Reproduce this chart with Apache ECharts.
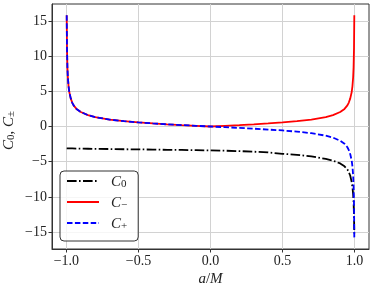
<!DOCTYPE html>
<html>
<head>
<meta charset="utf-8">
<script src="https://cdn.jsdelivr.net/npm/echarts@6/dist/echarts.min.js"></script>
<style>
html,body{margin:0;padding:0;background:#fff;}
#chart{width:374px;height:291px;}
</style>
</head>
<body>
<div id="chart"></div>
<script>
const aVals = [-0.998,-0.996,-0.993,-0.99,-0.985,-0.98,-0.97,-0.96,-0.95,-0.93,-0.9,-0.85,-0.8,-0.7,-0.6,-0.5,-0.4,-0.3,-0.2,-0.1,0,0.1,0.2,0.3,0.4,0.5,0.6,0.7,0.8,0.85,0.9,0.93,0.95,0.96,0.97,0.98,0.985,0.99,0.993,0.996,0.998];
const c0Vals = [-3.11,-3.11,-3.11,-3.11,-3.11,-3.12,-3.12,-3.12,-3.13,-3.13,-3.14,-3.16,-3.18,-3.2,-3.23,-3.25,-3.28,-3.31,-3.33,-3.36,-3.39,-3.44,-3.5,-3.58,-3.68,-3.88,-4.02,-4.25,-4.6,-4.85,-5.25,-5.65,-6.1,-6.5,-7.0,-7.9,-8.6,-9.6,-10.7,-12.6,-15.2];
const cMinusVals = [15.8,11.2,8.4,7.0,5.7,4.9,4.0,3.4,3.0,2.5,2.06,1.61,1.33,0.98,0.75,0.58,0.44,0.31,0.2,0.1,0,0.1,0.2,0.31,0.44,0.58,0.75,0.98,1.33,1.61,2.06,2.5,3.0,3.4,4.0,4.9,5.7,7.0,8.4,11.2,15.8];
const cPlusVals = [15.8,11.2,8.4,7.0,5.7,4.9,4.0,3.4,3.0,2.5,2.06,1.61,1.33,0.98,0.75,0.58,0.44,0.31,0.2,0.1,0,-0.1,-0.2,-0.31,-0.44,-0.56,-0.73,-0.95,-1.3,-1.58,-2.02,-2.45,-2.95,-3.35,-3.95,-4.85,-5.65,-6.95,-8.4,-11.2,-15.8];
const xTicks = [-1.0,-0.5,0.0,0.5,1.0];
const yTicks = [-15,-10,-5,0,5,10,15];
const seriesNames = ['C0','C-','C+'];

const FONT = 'Liberation Serif';
const TXT = '#222';
const pairs = vals => aVals.map((a,i)=>[a, vals[i]]);
const minus = s => String(s).replace('-', '\u2212');

const rich = {
  i:{fontFamily:FONT,fontStyle:'italic',fontSize:15,color:TXT,lineHeight:18,verticalAlign:'bottom'},
  n:{fontFamily:FONT,fontSize:15,color:TXT,lineHeight:18,verticalAlign:'bottom'},
  s:{fontFamily:FONT,fontSize:11,color:TXT,lineHeight:8,verticalAlign:'bottom'}
};
const legendLabel = {'C0':'{i|C}{s|0}','C-':'{i|C}{s|\u2212}','C+':'{i|C}{s|+}'};

const chart = echarts.init(document.getElementById('chart'), null, {renderer:'canvas'});
chart.setOption({
  animation:false,
  backgroundColor:'#fff',
  grid:{left:52,right:5,top:4,bottom:42,show:true,borderColor:'#333',borderWidth:1,backgroundColor:'transparent',
        containLabel:false,outerBoundsMode:'none'},
  xAxis:{
    type:'value',min:-1.1,max:1.1,
    name:'{i|a}{n|/}{i|M}',nameLocation:'middle',nameGap:20,nameMoveOverlap:false,
    nameTextStyle:{rich:rich},
    axisLine:{show:true,onZero:false,lineStyle:{color:'#333',width:1}},
    axisTick:{show:true,length:3.5,inside:false,customValues:xTicks,lineStyle:{color:'#333'}},
    axisLabel:{customValues:xTicks,margin:5,fontFamily:FONT,fontSize:14,color:TXT,
      formatter:v=>minus(v.toFixed(1))},
    splitLine:{show:true,lineStyle:{color:'#d2d2d2',width:1}}
  },
  yAxis:{
    type:'value',min:-17.4,max:17.4,
    name:'{i|C}{s|0}{n|, }{i|C}{s|\u00b1}',nameLocation:'middle',nameGap:35,nameRotate:90,nameMoveOverlap:false,
    nameTextStyle:{rich:rich,padding:[0,8,0,0]},
    axisLine:{show:true,onZero:false,lineStyle:{color:'#333',width:1}},
    axisTick:{show:true,length:3.5,inside:false,customValues:yTicks,lineStyle:{color:'#333'}},
    axisLabel:{customValues:yTicks,margin:5,fontFamily:FONT,fontSize:14,color:TXT,
      formatter:v=>minus(v)},
    splitLine:{show:true,lineStyle:{color:'#d2d2d2',width:1}}
  },
  legend:{
    left:60,top:171,orient:'vertical',
    itemWidth:32,itemHeight:14,itemGap:6,
    padding:[4,11,9,6],
    borderColor:'#333',borderWidth:1,borderRadius:4,
    backgroundColor:'rgba(255,255,255,0.8)',
    data:seriesNames,
    itemStyle:{opacity:0},
    formatter:name=>legendLabel[name],
    textStyle:{rich:rich,padding:[0,0,0,7]}
  },
  series:[
    {name:'C0',type:'line',data:pairs(c0Vals),showSymbol:false,symbol:'none',smooth:false,
     lineStyle:{color:'#000',width:1.8,type:[9.6,2.4,1.6,2.4]},itemStyle:{color:'#000'}},
    {name:'C-',type:'line',data:pairs(cMinusVals),showSymbol:false,symbol:'none',
     lineStyle:{color:'#ff0000',width:1.8,type:'solid'},itemStyle:{color:'#ff0000'}},
    {name:'C+',type:'line',data:pairs(cPlusVals),showSymbol:false,symbol:'none',
     lineStyle:{color:'#0000ff',width:1.8,type:[5.5,2.4]},itemStyle:{color:'#0000ff'}}
  ]
});
</script>
</body>
</html>
